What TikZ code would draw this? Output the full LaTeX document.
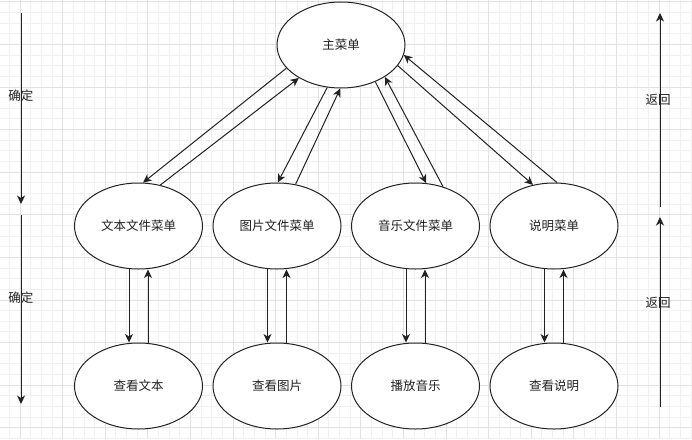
\documentclass[tikz,border=0pt]{standalone}
\usepackage{fontspec}
\setmainfont{Noto Sans CJK SC}
\usepackage{tikz}
\usetikzlibrary{arrows.meta, positioning, shapes.geometric}
\definecolor{gridminor}{HTML}{F0F0F0}
\definecolor{gridmajor}{HTML}{E2E2E2}
\definecolor{inkgray}{HTML}{222222}

\begin{document}
\begin{tikzpicture}[
    x=1pt, y=-1pt,
    menu/.style={draw=inkgray, ellipse, line width=1pt, fill=white,
                 minimum width=128pt, minimum height=86pt, inner sep=0pt,
                 font=\fontsize{12.5pt}{15pt}\selectfont, text=inkgray},
    arr/.style={-{Stealth[length=8.5pt, width=8pt, inset=2.5pt]}, line width=1pt, draw=inkgray},
    side/.style={font=\fontsize{12.5pt}{15pt}\selectfont, text=inkgray, inner sep=0pt}
  ]
    \useasboundingbox (0,0) rectangle (692,439);
    \fill[white] (0,0) rectangle (692,439);
    \foreach \i in {-1,...,63}
      \draw[gridminor, line width=0.8pt] (20+10.65*\i,0) -- (20+10.65*\i,439);
    \foreach \i in {0,...,41}
      \draw[gridminor, line width=0.8pt] (0,1.7+10.65*\i) -- (692,1.7+10.65*\i);
    \foreach \i in {0,...,15}
      \draw[gridmajor, line width=0.8pt] (20+42.6*\i,0) -- (20+42.6*\i,439);
    \foreach \i in {0,...,10}
      \draw[gridmajor, line width=0.8pt] (0,1.7+42.6*\i) -- (692,1.7+42.6*\i);

    \node[menu] (main) at (341,45) {主菜单};

    \node[menu] (txt)  at (138.5,226) {文本文件菜单};
    \node[menu] (pic)  at (277,226)   {图片文件菜单};
    \node[menu] (mus)  at (415.5,226) {音乐文件菜单};
    \node[menu] (help) at (554,226)   {说明菜单};

    \node[menu] (viewtxt)  at (138.5,386) {查看文本};
    \node[menu] (viewpic)  at (277,386)   {查看图片};
    \node[menu] (play)     at (415.5,386) {播放音乐};
    \node[menu] (viewhelp) at (554,386)   {查看说明};

    \draw[arr] (main.203) -- (txt.84);
    \draw[arr] (txt.62) -- (main.218);
    \draw[arr] (main.252) -- (pic.89);
    \draw[arr] (pic.66) -- (main.269);
    \draw[arr] (main.313) -- (mus.76);
    \draw[arr] (mus.55) -- (main.324);
    \draw[arr] (main.340) -- (help.117);
    \draw[arr] (help.86) -- (main.351);

    \foreach \a/\b in {txt/viewtxt, pic/viewpic, mus/play, help/viewhelp}{
      \draw[arr] ([xshift=-9.5pt, yshift=1pt]\a.south) -- ([xshift=-9.5pt]\b.north);
      \draw[arr] ([xshift=9.5pt]\b.north) -- ([xshift=9.5pt]\a.south);
    }

    \coordinate (ok1top) at (21,13);
    \coordinate (ok1bot) at (21,204);
    \coordinate (ok2top) at (21,215);
    \coordinate (ok2bot) at (21,404);
    \coordinate (back1bot) at (660,207);
    \coordinate (back1top) at (660,13);
    \coordinate (back2bot) at (660,407);
    \coordinate (back2top) at (660,217);

    \draw[arr] (ok1top) -- node[side, pos=0.435] (ok1) {确定} (ok1bot);
    \draw[arr] (ok2top) -- node[side, pos=0.44] (ok2) {确定} (ok2bot);
    \draw[arr] (back1bot) -- node[side, pos=0.55, xshift=-2pt] (back1) {返回} (back1top);
    \draw[arr] (back2bot) -- node[side, pos=0.55, xshift=-2pt] (back2) {返回} (back2top);
  \end{tikzpicture}
\end{document}
